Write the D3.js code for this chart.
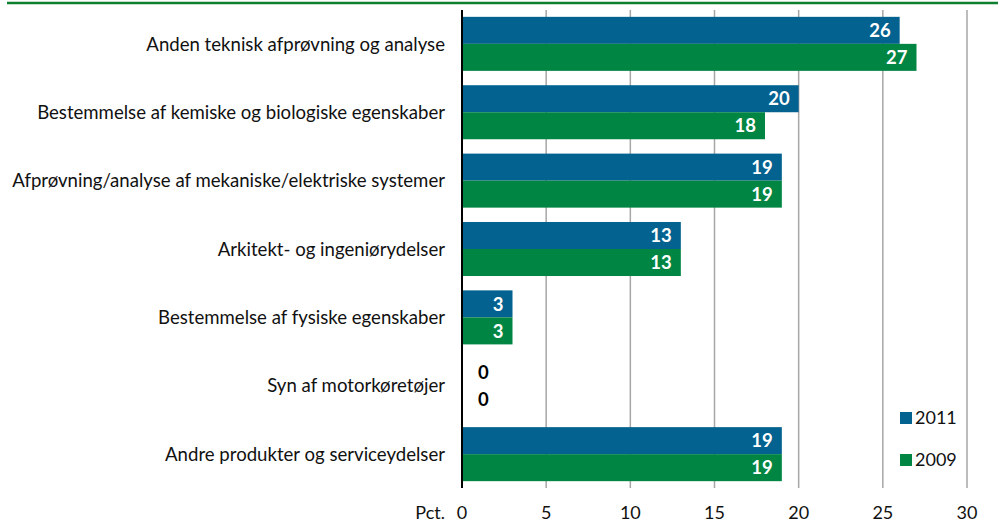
<!DOCTYPE html>
<html>
<head>
<meta charset="utf-8">
<script src="https://cdn.jsdelivr.net/npm/d3@7"></script>
<style>
  body { margin: 0; background: #fff; }
  svg text { font-family: Lato, "Open Sans", sans-serif; }
</style>
</head>
<body>
<div id="chart"></div>
<script>
// Chart data
const categories = [
  "Anden teknisk afprøvning og analyse",
  "Bestemmelse af kemiske og biologiske egenskaber",
  "Afprøvning/analyse af mekaniske/elektriske systemer",
  "Arkitekt- og ingeniørydelser",
  "Bestemmelse af fysiske egenskaber",
  "Syn af motorkøretøjer",
  "Andre produkter og serviceydelser"
];
const values2011 = [26, 20, 19, 13, 3, 0, 19];
const values2009 = [27, 18, 19, 13, 3, 0, 19];
const seriesNames = ["2011", "2009"];
const xTicks = [0, 5, 10, 15, 20, 25, 30];
const axisUnit = "Pct.";

const colors = { "2011": "#03628f", "2009": "#018543" };

const width = 998, height = 526;
const margin = { top: 10, right: 31, bottom: 38, left: 462 };

const svg = d3.select("#chart").append("svg")
  .attr("width", width)
  .attr("height", height);

// green rule along the top
svg.append("line")
  .attr("x1", 7).attr("x2", width)
  .attr("y1", 3).attr("y2", 3)
  .attr("stroke", "#0f7f2f")
  .attr("stroke-width", 2.5);

const x = d3.scaleLinear()
  .domain([0, 30])
  .range([margin.left, width - margin.right]);

const y = d3.scaleBand()
  .domain(categories)
  .range([margin.top, height - margin.bottom])
  .paddingInner(0.21)
  .paddingOuter(0.1);

const sub = d3.scaleBand()
  .domain(seriesNames)
  .range([0, y.bandwidth()]);

// vertical grid lines
svg.append("g")
  .selectAll("line")
  .data(xTicks.filter(d => d > 0))
  .enter().append("line")
  .attr("x1", d => x(d)).attr("x2", d => x(d))
  .attr("y1", margin.top).attr("y2", height - margin.bottom)
  .attr("stroke", "#a6a6a6")
  .attr("stroke-width", 1.5);

// bars
const rows = categories.map((c, i) => ({ cat: c, vals: [values2011[i], values2009[i]] }));

const group = svg.append("g")
  .selectAll("g")
  .data(rows)
  .enter().append("g")
  .attr("transform", d => `translate(0,${y(d.cat)})`);

group.selectAll("rect")
  .data(d => d.vals.map((v, j) => ({ key: seriesNames[j], value: v })))
  .enter().append("rect")
  .attr("x", x(0))
  .attr("y", d => sub(d.key))
  .attr("width", d => x(d.value) - x(0))
  .attr("height", sub.bandwidth())
  .attr("fill", d => colors[d.key]);

// value labels
group.selectAll("text.val")
  .data(d => d.vals.map((v, j) => ({ key: seriesNames[j], value: v })))
  .enter().append("text")
  .attr("class", "val")
  .attr("x", d => d.value > 0 ? x(d.value) - 9 : x(0) + 16)
  .attr("y", d => sub(d.key) + sub.bandwidth() / 2)
  .attr("dy", "0.36em")
  .attr("text-anchor", d => d.value > 0 ? "end" : "start")
  .attr("font-size", 18.5)
  .attr("font-weight", "bold")
  .attr("fill", d => d.value > 0 ? "#fff" : "#000")
  .text(d => d.value);

// zero axis line
svg.append("line")
  .attr("x1", x(0)).attr("x2", x(0))
  .attr("y1", margin.top).attr("y2", height - margin.bottom)
  .attr("stroke", "#000")
  .attr("stroke-width", 2);

// category labels
svg.append("g")
  .selectAll("text")
  .data(categories)
  .enter().append("text")
  .attr("x", 445)
  .attr("y", d => y(d) + y.bandwidth() / 2)
  .attr("dy", "0.36em")
  .attr("text-anchor", "end")
  .attr("font-size", 18.6)
  .attr("fill", "#111")
  .text(d => d);

// x tick labels
svg.append("g")
  .selectAll("text")
  .data(xTicks)
  .enter().append("text")
  .attr("x", d => x(d))
  .attr("y", 519)
  .attr("text-anchor", "middle")
  .attr("font-size", 18)
  .attr("fill", "#111")
  .text(d => d);

svg.append("text")
  .attr("x", 445)
  .attr("y", 519)
  .attr("text-anchor", "end")
  .attr("font-size", 18)
  .attr("fill", "#111")
  .text(axisUnit);

// legend
const legend = svg.append("g")
  .selectAll("g")
  .data(seriesNames)
  .enter().append("g")
  .attr("transform", (d, i) => `translate(900,${412 + i * 42})`);

legend.append("rect")
  .attr("width", 12).attr("height", 12)
  .attr("fill", d => colors[d]);

legend.append("text")
  .attr("x", 15)
  .attr("y", 6)
  .attr("dy", "0.36em")
  .attr("font-size", 18)
  .attr("fill", "#111")
  .text(d => d);
</script>
</body>
</html>
